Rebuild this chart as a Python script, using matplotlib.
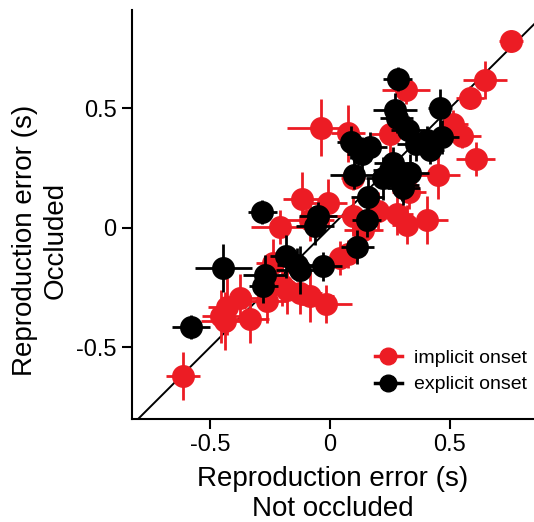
import matplotlib
matplotlib.use("Agg")
import matplotlib.pyplot as plt
from matplotlib.lines import Line2D

plt.rcParams['font.family'] = ['Liberation Sans', 'DejaVu Sans']

# implicit onset (red)
implicit_x = [0.754, 0.646, 0.583, 0.317, -0.039, 0.076, 0.250, 0.514, 0.549, 0.607,
              0.451, 0.097, -0.115, -0.010, -0.208, 0.403, 0.278, 0.319, 0.139, 0.097,
              -0.083, 0.042, 0.075, -0.236, -0.201, -0.083, -0.017, -0.264, -0.375, -0.333,
              -0.437, -0.455, -0.611, -0.430, -0.125, -0.180, 0.200, 0.330]
implicit_y = [0.779, 0.617, 0.544, 0.575, 0.418, 0.394, 0.392, 0.432, 0.383, 0.288,
              0.221, 0.207, 0.121, 0.103, 0.003, 0.031, 0.058, 0.013, -0.008, 0.047,
              0.033, -0.126, -0.110, -0.147, -0.238, -0.286, -0.318, -0.307, -0.293, -0.380,
              -0.390, -0.370, -0.620, -0.330, -0.272, -0.260, 0.070, 0.150]
implicit_xerr = [0.05, 0.09, 0.06, 0.10, 0.14, 0.07, 0.08, 0.06, 0.08, 0.08,
                 0.09, 0.05, 0.08, 0.08, 0.12, 0.09, 0.07, 0.06, 0.08, 0.10,
                 0.10, 0.06, 0.07, 0.07, 0.08, 0.10, 0.11, 0.09, 0.08, 0.08,
                 0.10, 0.08, 0.07, 0.08, 0.09, 0.08, 0.08, 0.07]
implicit_yerr = [0.04, 0.08, 0.05, 0.06, 0.12, 0.12, 0.08, 0.06, 0.05, 0.07,
                 0.10, 0.05, 0.11, 0.10, 0.07, 0.10, 0.09, 0.08, 0.08, 0.08,
                 0.09, 0.07, 0.06, 0.10, 0.09, 0.11, 0.08, 0.09, 0.10, 0.10,
                 0.12, 0.11, 0.10, 0.12, 0.09, 0.10, 0.08, 0.07]

# explicit onset (black)
explicit_x = [0.282, 0.458, 0.271, 0.278, 0.326, 0.088, 0.167, 0.132, 0.403, 0.466,
              0.417, 0.264, 0.222, 0.285, 0.306, 0.333, 0.100, 0.157, 0.153, -0.049,
              -0.063, -0.282, 0.114, -0.031, -0.181, -0.139, -0.125, -0.444, -0.271, -0.278,
              -0.579, 0.360, 0.300, 0.250]
explicit_y = [0.621, 0.499, 0.492, 0.457, 0.408, 0.357, 0.339, 0.307, 0.367, 0.378,
              0.325, 0.269, 0.207, 0.210, 0.165, 0.228, 0.221, 0.128, 0.033, 0.047,
              0.006, 0.064, -0.080, -0.161, -0.120, -0.154, -0.175, -0.168, -0.196, -0.244,
              -0.415, 0.350, 0.180, 0.240]
explicit_xerr = [0.06, 0.05, 0.09, 0.07, 0.07, 0.06, 0.07, 0.06, 0.08, 0.07,
                 0.06, 0.08, 0.07, 0.06, 0.07, 0.08, 0.10, 0.07, 0.06, 0.08,
                 0.08, 0.06, 0.07, 0.08, 0.07, 0.08, 0.10, 0.12, 0.09, 0.06,
                 0.08, 0.08, 0.07, 0.07]
explicit_yerr = [0.05, 0.08, 0.07, 0.06, 0.06, 0.07, 0.06, 0.07, 0.06, 0.07,
                 0.06, 0.07, 0.09, 0.07, 0.07, 0.08, 0.06, 0.08, 0.07, 0.06,
                 0.08, 0.05, 0.07, 0.06, 0.09, 0.07, 0.10, 0.10, 0.08, 0.07,
                 0.05, 0.07, 0.07, 0.07]

RED = '#ec1c24'
BLACK = '#000000'

fig = plt.figure(figsize=(5.34, 5.22), dpi=100)
ax = fig.add_axes([0.247, 0.197, 0.753, 0.784])

xlim = (-0.825, 0.85)
ylim = (-0.80, 0.91)

ax.plot([-1, 1], [-1, 1], color='black', lw=1.4, zorder=1)

ms = 15.5
for x, y, xe, ye in zip(implicit_x, implicit_y, implicit_xerr, implicit_yerr):
    ax.errorbar(x, y, xerr=xe, yerr=ye, fmt='o', color=RED, ms=ms,
                elinewidth=2, capsize=0, zorder=2)
for x, y, xe, ye in zip(explicit_x, explicit_y, explicit_xerr, explicit_yerr):
    ax.errorbar(x, y, xerr=xe, yerr=ye, fmt='o', color=BLACK, ms=ms,
                elinewidth=2, capsize=0, zorder=3)

ax.set_xlim(*xlim)
ax.set_ylim(*ylim)
ax.set_xticks([-0.5, 0, 0.5])
ax.set_xticklabels(['-0.5', '0', '0.5'])
ax.set_yticks([-0.5, 0, 0.5])
ax.set_yticklabels(['-0.5', '0', '0.5'])
for s in ['top', 'right']:
    ax.spines[s].set_visible(False)
for s in ['left', 'bottom']:
    ax.spines[s].set_linewidth(1.5)
ax.tick_params(direction='out', length=7, width=1.5, labelsize=17, pad=4)

ax.set_xlabel('Reproduction error (s)\nNot occluded', fontsize=20, linespacing=1.2, labelpad=7)
ax.set_ylabel('Reproduction error (s)\nOccluded', fontsize=20, linespacing=1.2)
ax.yaxis.set_label_coords(-0.158, 0.437)

handles = [Line2D([0], [0], color=RED, marker='o', ms=12, lw=2.5),
           Line2D([0], [0], color=BLACK, marker='o', ms=12, lw=2.5)]
ax.legend(handles, ['implicit onset', 'explicit onset'], loc='lower right',
          bbox_to_anchor=(1.025, 0.02), frameon=False, fontsize=14,
          handlelength=1.4, handletextpad=0.6, labelspacing=0.45)

fig.savefig('out.png', dpi=100)
